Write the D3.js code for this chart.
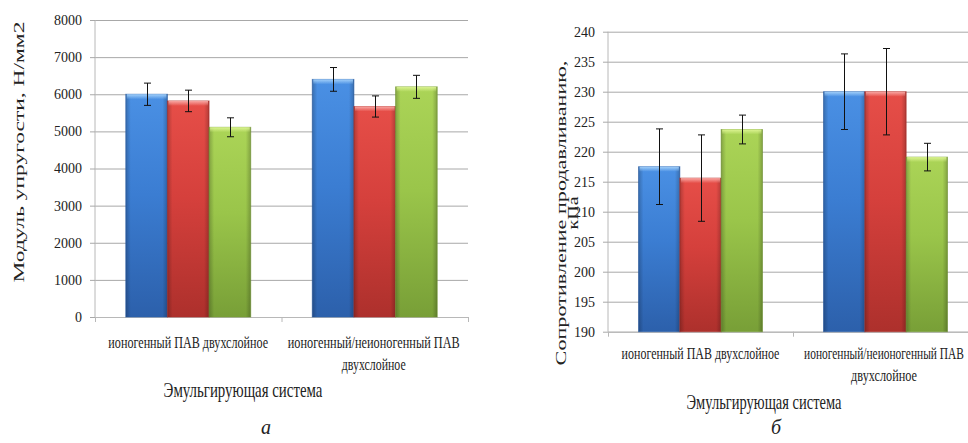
<!DOCTYPE html>
<html>
<head>
<meta charset="utf-8">
<script src="https://cdn.jsdelivr.net/npm/d3@7"></script>
<style>
  html, body { margin: 0; padding: 0; background: #fff; }
  svg { display: block; }
  text { font-family: "Liberation Serif", "DejaVu Serif", serif; fill: #222; }
</style>
</head>
<body>
<svg id="fig" width="968" height="443"></svg>
<script>
// Categories (emulsifying systems), each label split into display lines
const categories = ["ионогенный ПАВ двухслойное", "ионогенный/неионогенный ПАВ двухслойное"];
const categoryLines = [["ионогенный ПАВ двухслойное"], ["ионогенный/неионогенный ПАВ", "двухслойное"]];
const seriesNames = ["s1", "s2", "s3"];

// Panel а: modulus of elasticity, N/mm2
const modulusTicks = [0, 1000, 2000, 3000, 4000, 5000, 6000, 7000, 8000];
const modulusBlue = [6000, 6400];
const modulusRed = [5820, 5670];
const modulusGreen = [5110, 6200];
const modulusBlueErr = [300, 320];
const modulusRedErr = [290, 285];
const modulusGreenErr = [255, 310];

// Panel б: burst resistance, kPa
const burstTicks = [190, 195, 200, 205, 210, 215, 220, 225, 230, 235, 240];
const burstBlue = [217.5, 230.0];
const burstRed = [215.6, 230.0];
const burstGreen = [223.7, 219.1];
const burstBlueErr = [6.3, 6.3];
const burstRedErr = [7.2, 7.2];
const burstGreenErr = [2.4, 2.3];

const xTitle = "Эмульгирующая система";

const svg = d3.select("#fig");
const defs = svg.append("defs");

// Bevelled bar fills: vertical shading plus a soft horizontal edge darkening
const palette = [
  { id: "blue",  top: "#4a90e4", mid: "#3b7dd2", bot: "#2c60ab", hi: "#a2d0fa" },
  { id: "red",   top: "#e64e48", mid: "#d5403c", bot: "#ad302c", hi: "#f9a8a4" },
  { id: "green", top: "#abd457", mid: "#9ac54a", bot: "#789f37", hi: "#dcf492" }
];
palette.forEach(p => {
  const g = defs.append("linearGradient").attr("id", "v-" + p.id)
    .attr("x1", 0).attr("y1", 0).attr("x2", 0).attr("y2", 1);
  g.append("stop").attr("offset", "0%").attr("stop-color", p.top);
  g.append("stop").attr("offset", "45%").attr("stop-color", p.mid);
  g.append("stop").attr("offset", "100%").attr("stop-color", p.bot);
  const h = defs.append("linearGradient").attr("id", "hi-" + p.id)
    .attr("x1", 0).attr("y1", 0).attr("x2", 0).attr("y2", 1);
  h.append("stop").attr("offset", "0%").attr("stop-color", p.hi).attr("stop-opacity", 1);
  h.append("stop").attr("offset", "100%").attr("stop-color", p.hi).attr("stop-opacity", 0);
});
const edge = defs.append("linearGradient").attr("id", "edge")
  .attr("x1", 0).attr("y1", 0).attr("x2", 1).attr("y2", 0);
edge.append("stop").attr("offset", "0%").attr("stop-color", "#000").attr("stop-opacity", 0.22);
edge.append("stop").attr("offset", "12%").attr("stop-color", "#000").attr("stop-opacity", 0);
edge.append("stop").attr("offset", "88%").attr("stop-color", "#000").attr("stop-opacity", 0);
edge.append("stop").attr("offset", "100%").attr("stop-color", "#000").attr("stop-opacity", 0.22);

// Place a centred text and squeeze it along its run to a given length
function fitText(parent, str, size, cx, cy, length, rotate, across) {
  const t = parent.append("text").attr("text-anchor", "middle").attr("font-size", size).text(str);
  const natural = t.node().getComputedTextLength();
  const sx = length ? length / natural : 1;
  const rot = rotate ? " rotate(-90)" : "";
  t.attr("transform", `translate(${cx},${cy})${rot} scale(${sx},${across || 1})`);
  return t;
}

function drawPanel(cfg) {
  const g = svg.append("g");
  const x = d3.scaleBand().domain(categories).range([cfg.left, cfg.right])
    .paddingInner(0.33).paddingOuter(0.165);
  const xs = d3.scaleBand().domain(seriesNames).range([0, x.bandwidth()]);
  const y = d3.scaleLinear().domain(cfg.domain).range([cfg.bottom, cfg.top]);

  // horizontal gridlines
  g.append("g").attr("transform", `translate(${cfg.left},0)`)
    .call(d3.axisLeft(y).tickValues(cfg.ticks).tickSize(-(cfg.right - cfg.left)).tickFormat(""))
    .call(a => a.select(".domain").remove())
    .call(a => a.selectAll("line").attr("stroke", "#a8a8a8").attr("stroke-width", 1));

  // value axis with outward ticks
  g.append("g").attr("transform", `translate(${cfg.left},0)`)
    .call(d3.axisLeft(y).tickValues(cfg.ticks).tickSize(5).tickPadding(8).tickFormat(d3.format("d")))
    .call(a => a.select(".domain").attr("stroke", "#b8b8b8").attr("d", `M0,${cfg.bottom}V${cfg.top}`))
    .call(a => a.selectAll("line").attr("stroke", "#a8a8a8"))
    .call(a => a.selectAll("text").attr("font-size", 14)
      .attr("font-family", "Liberation Serif").attr("fill", "#222"));

  // category axis: baseline and boundary ticks
  const step = x.step();
  const bounds = d3.range(categories.length + 1).map(i => cfg.left + i * step);
  g.append("line").attr("x1", cfg.left).attr("x2", cfg.right)
    .attr("y1", cfg.bottom + 0.5).attr("y2", cfg.bottom + 0.5).attr("stroke", "#b8b8b8");
  g.selectAll(".ctick").data(bounds).join("line")
    .attr("x1", d => d + 0.5).attr("x2", d => d + 0.5)
    .attr("y1", cfg.bottom).attr("y2", cfg.bottom + 5).attr("stroke", "#b8b8b8");

  // bars
  const series = [
    { key: "s1", vals: cfg.blue, err: cfg.blueErr, pal: palette[0] },
    { key: "s2", vals: cfg.red, err: cfg.redErr, pal: palette[1] },
    { key: "s3", vals: cfg.green, err: cfg.greenErr, pal: palette[2] }
  ];
  const bw = xs.bandwidth();
  series.forEach(s => {
    categories.forEach((c, i) => {
      const bx = x(c) + xs(s.key);
      const by = y(s.vals[i]);
      const bh = cfg.bottom - by;
      g.append("rect").attr("x", bx).attr("y", by).attr("width", bw).attr("height", bh)
        .attr("fill", `url(#v-${s.pal.id})`).attr("stroke", s.pal.bot).attr("stroke-opacity", 0.6);
      g.append("rect").attr("x", bx).attr("y", by).attr("width", bw).attr("height", bh)
        .attr("fill", "url(#edge)");
      g.append("rect").attr("x", bx + 1).attr("y", by).attr("width", bw - 2).attr("height", 5)
        .attr("fill", `url(#hi-${s.pal.id})`);
    });
  });

  // error bars
  series.forEach(s => {
    categories.forEach((c, i) => {
      const cx = Math.round(x(c) + xs(s.key) + bw / 2) + 0.5;
      const hiY = y(s.vals[i] + s.err[i]);
      const loY = y(s.vals[i] - s.err[i]);
      const eg = g.append("g").attr("stroke", "#111").attr("stroke-width", 1);
      eg.append("line").attr("x1", cx).attr("x2", cx).attr("y1", hiY).attr("y2", loY);
      eg.append("line").attr("x1", cx - 3.5).attr("x2", cx + 3.5).attr("y1", hiY).attr("y2", hiY);
      eg.append("line").attr("x1", cx - 3.5).attr("x2", cx + 3.5).attr("y1", loY).attr("y2", loY);
    });
  });

  // category labels
  categories.forEach((c, i) => {
    const cx = x(c) + x.bandwidth() / 2 + (cfg.labelShift[i] || 0);
    categoryLines[i].forEach((line, j) => {
      fitText(g, line, 17, cx, cfg.labelY + j * 22, cfg.labelWidths[i][j]);
    });
  });

  // axis titles
  fitText(g, xTitle, 20, cfg.xTitleX, cfg.xTitleY, cfg.xTitleW);
  // vertical titles: long along the axis, narrow glyphs across it
  cfg.yTitle.forEach((line, j) => {
    fitText(g, line, 20, cfg.yTitleX[j], cfg.yTitleY, cfg.yTitleW[j], true, 0.74);
  });

  // panel letter
  g.append("text").attr("x", cfg.letterX).attr("y", 434).attr("text-anchor", "middle")
    .attr("font-size", 20).attr("font-style", "italic").text(cfg.letter);
}

drawPanel({
  left: 95, right: 468, top: 20, bottom: 317,
  domain: [0, 8000], ticks: modulusTicks,
  blue: modulusBlue, red: modulusRed, green: modulusGreen,
  blueErr: modulusBlueErr, redErr: modulusRedErr, greenErr: modulusGreenErr,
  labelY: 348, labelWidths: [[160], [172, 64]], labelShift: [0, -1],
  xTitleX: 243, xTitleY: 397, xTitleW: 159,
  yTitle: ["Модуль упругости, Н/мм2"], yTitleX: [24], yTitleY: 152, yTitleW: [261],
  letter: "а", letterX: 266
});

drawPanel({
  left: 608, right: 978, top: 31.7, bottom: 331.7,
  domain: [190, 240], ticks: burstTicks,
  blue: burstBlue, red: burstRed, green: burstGreen,
  blueErr: burstBlueErr, redErr: burstRedErr, greenErr: burstGreenErr,
  labelY: 359, labelWidths: [[158], [160, 66]], labelShift: [0, -1.5],
  xTitleX: 764, xTitleY: 409, xTitleW: 155,
  yTitle: ["Сопротивление продавливанию,", "кПа"], yTitleX: [566, 578], yTitleY: 213, yTitleW: [305, 0],
  letter: "б", letterX: 776
});
</script>
</body>
</html>
